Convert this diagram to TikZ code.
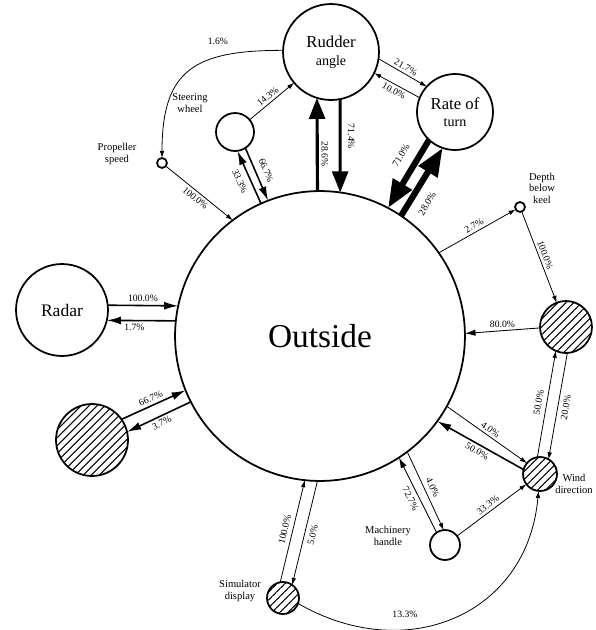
\documentclass[tikz,border=0pt]{standalone}
\usepackage{fontspec}
\setmainfont{Liberation Serif}
\usetikzlibrary{arrows.meta,patterns.meta}

\begin{document}
\begin{tikzpicture}[x=0.02cm,y=-0.02cm,
  ring/.style={circle,draw,line width=1pt,inner sep=0pt,outer sep=0pt,minimum size=#1*0.04cm},
  hatched/.style={ring=#1,pattern={Lines[angle=45,distance=3.2pt,line width=0.6pt]}},
  lbl/.style={font=\fontsize{6}{6.6}\selectfont,align=center,inner sep=0pt},
  big/.style={font=\fontsize{9.5}{11}\selectfont,align=center},
  pct/.style={font=\fontsize{5.5}{6}\selectfont,inner sep=1.5pt},
  conn/.style={line width=0.45pt,-{Latex[length=4pt,width=2.6pt]}},
  connb/.style={line width=0.5pt,-{Latex[length=6pt,width=3.6pt]}},
  connmed/.style={line width=0.9pt,-{Latex[length=8pt,width=4.5pt]}},
  connheavy/.style={line width=1.8pt,-{Triangle[length=12pt,width=9pt]}},
  connmassive/.style={line width=3.5pt,-{Triangle[length=16pt,width=12pt]}},
]
\useasboundingbox (0,0) rectangle (596,630);

% nodes
\node[ring=145] (O) at (320,336) {\fontsize{19}{22}\selectfont Outside};
\node[ring=48,big] (R) at (331,52) {Rudder\\[-1pt]{\fontsize{8}{9}\selectfont angle}};
\node[ring=38,big] (T) at (455,112) {Rate of\\[-1pt]{\fontsize{8}{9}\selectfont turn}};
\node[ring=46,big,font=\fontsize{10}{12}\selectfont] (Ra) at (62,310) {Radar};
\node[ring=19] (W) at (235,132) {};
\node[ring=5] (P) at (162,163) {};
\node[ring=5] (D) at (520,207) {};
\node[hatched=26] (C) at (566,327) {};
\node[hatched=17] (Wd) at (540,474) {};
\node[ring=15] (M) at (445,545) {};
\node[hatched=16] (S) at (283,598) {};
\node[hatched=36] (H) at (92,440) {};

% captions of the small nodes
\node[lbl] (Wtxt) at (190,103) {Steering\\wheel};
\node[lbl] (Ptxt) at (117,154) {Propeller\\speed};
\node[lbl] (Dtxt) at (542,188) {Depth\\below\\keel};
\node[lbl] (Wdtxt) at (574,484) {Wind\\direction};
\node[lbl] (Mtxt) at (388,536) {Machinery\\handle};
\node[lbl] (Stxt) at (240,591) {Simulator\\display};

% rudder, steering wheel and propeller
\draw[conn] (R.178) to[out=180,in=90,looseness=1.4]
  node[pct,pos=0.3,above=5pt] {1.6\%} (P.90);
\draw[conn] (P) -- node[pct,sloped,below] {100.0\%} (O.127);
\draw[conn] (W) -- node[pct,sloped,above] {14.3\%} (R);
\draw[connmed] (O.114) -- node[pct,sloped,below=2pt] {33.3\%} (W.-83);
\draw[connmed] (W.-57) -- node[pct,sloped,above=2pt] {66.7\%} (O.111);
\draw[connheavy] (O.91) -- node[pct,sloped,above,pos=0.4] {28.6\%} (R.-107);
\draw[connheavy] (R.-79) -- node[pct,sloped,above=2pt,pos=0.4] {71.4\%} (O.82);

% rate of turn
\draw[conn] (R.-8) -- node[pct,sloped,above] {21.7\%} (T.138);
\draw[conn] (T.158) -- node[pct,sloped,below] {10.0\%} (R.-26);
\draw[connmassive] (T.-133) -- node[pct,sloped,above=4pt,pos=0.35] {71.0\%} (O.62);
\draw[connmassive] (O.56) -- node[pct,sloped,below=4pt,pos=0.3] {28.0\%} (T.-109);

% depth, current and wind
\draw[conn] (O.35) -- node[pct,sloped,above] {2.7\%} (D);
\draw[conn] (D) -- node[pct,sloped,above] {100.0\%} (C);
\draw[connb] (C.182) -- node[pct,above] {80.0\%} (O.1);
\draw[conn] (Wd.99) -- node[pct,sloped,above=1pt] {50.0\%} (C.-113);
\draw[conn] (C.-87) -- node[pct,sloped,below=1pt] {20.0\%} (Wd.60);
\draw[conn] (O.-29) -- node[pct,sloped,above] {4.0\%} (Wd.140);
\draw[connmed] (Wd.165) -- node[pct,sloped,below] {50.0\%} (O.-36);

% machinery handle
\draw[connb] (M.124) -- node[pct,sloped,below=1pt] {72.7\%} (O.-57);
\draw[conn] (O.-53) -- node[pct,sloped,above=1pt] {4.0\%} (M.95);
\draw[conn] (M) -- node[pct,sloped,above] {33.3\%} (Wd);

% simulator display
\draw[conn] (S.100) -- node[pct,sloped,above=1pt] {100.0\%} (O.-96);
\draw[conn] (O.-91) -- node[pct,sloped,below=1pt] {5.0\%} (S.55);
\draw[conn] (S.-20) to[out=-30,in=-95,looseness=1.2]
  node[pct,pos=0.33,above=5pt] {13.3\%} (Wd.-95);

% radar
\draw[connmed] (Ra.6) -- node[pct,above] {100.0\%} (O.168);
\draw[connmed] (O.174) -- node[pct,below,pos=0.6] {1.7\%} (Ra.-13);

% hatched node on the left
\draw[connmed] (H.35) -- node[pct,sloped,above] {66.7\%} (O.-158);
\draw[connmed] (O.-153) -- node[pct,sloped,below] {3.7\%} (H.13);
\end{tikzpicture}
\end{document}
